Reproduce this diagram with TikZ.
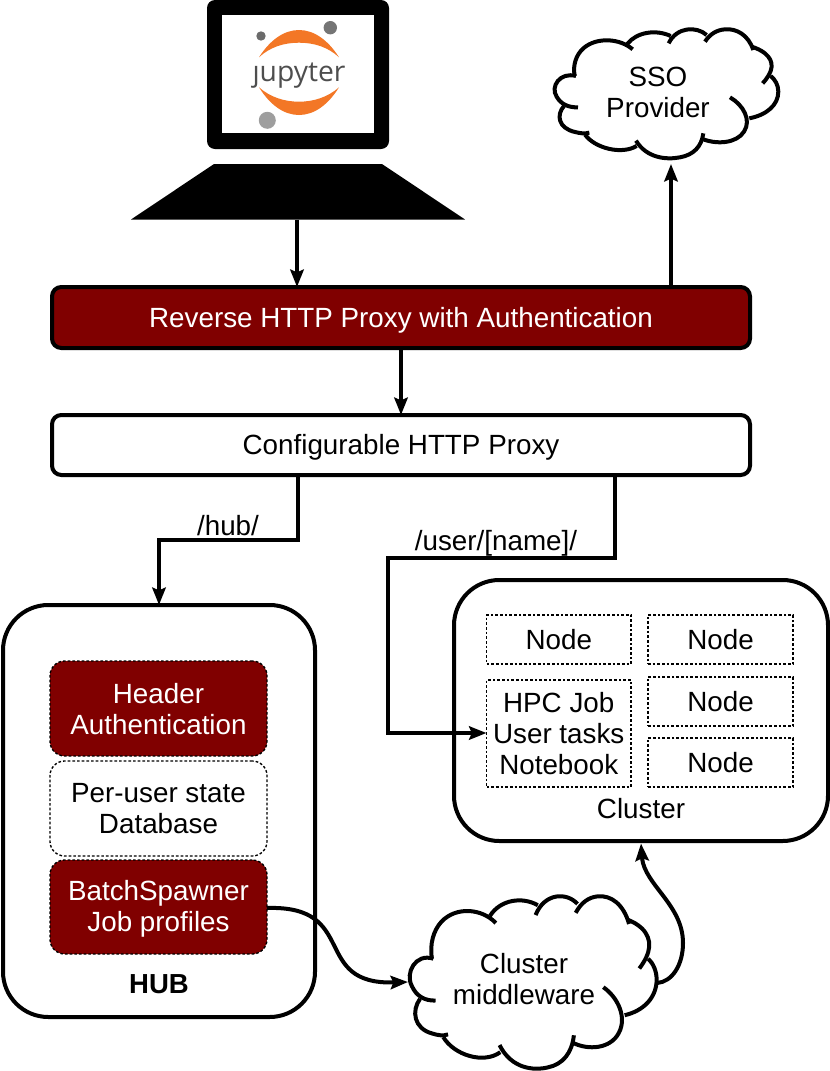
\documentclass[tikz,border=0pt]{standalone}
\usepackage{fontspec}
\setmainfont{Liberation Sans}
\newfontfamily\logofont{Open Sans}
\usetikzlibrary{arrows.meta}
\definecolor{maroonfill}{HTML}{800000}
\definecolor{logoorange}{HTML}{F37726}
\definecolor{logotext}{HTML}{4E4E4E}
\tikzset{
  x=0.75pt, y=-0.75pt,
  heavy/.style={line width=3pt},
  conn/.style={heavy, -{Stealth[length=13pt,width=10pt,inset=2pt]}, line join=miter},
  label/.style={font=\fontsize{20.85}{23.25}\selectfont, align=center, inner sep=0pt, outer sep=0pt},
  panel/.style={draw, heavy, rounded corners=7pt, inner sep=0pt, outer sep=0pt},
  bigpanel/.style={draw, heavy, rounded corners=34pt, inner sep=0pt, outer sep=0pt},
  darkpanel/.style={panel, fill=maroonfill},
  lightpanel/.style={panel, fill=white},
  dashbox/.style={draw, line width=1pt, dash pattern=on 2pt off 1.5pt, inner sep=0pt, outer sep=0pt},
  darkdash/.style={dashbox, rounded corners=11pt, fill=maroonfill},
  lightdash/.style={dashbox, rounded corners=11pt, fill=white},
  cloudline/.style={heavy, line cap=butt},
}
% A box given by its corners: name, x1, y1, x2, y2, box style
\newcommand\cornerbox[6]{%
  \pgfmathsetmacro\bxw{(#4-#2)*0.75}%
  \pgfmathsetmacro\bxh{(#5-#3)*0.75}%
  \node[#6, minimum width=\bxw pt, minimum height=\bxh pt] (#1) at ({(#2+#4)/2},{(#3+#5)/2}) {};%
}
% The separate arcs that make up a cloud outline
\newcommand\cloudarcs{%
  \draw[cloudline] (108,228) .. controls (60,215) and (30,260) .. (50,290) .. controls (62,312) and (85,323) .. (114,322);
  \draw[cloudline] (72,318) .. controls (48,345) and (55,385) .. (105,396) .. controls (120,400) and (135,402) .. (148,398);
  \draw[cloudline] (135,404) .. controls (165,445) and (245,465) .. (290,438);
  \draw[cloudline] (288,422) .. controls (320,475) and (380,480) .. (420,472) .. controls (460,465) and (485,440) .. (490,400);
  \draw[cloudline] (485,416) .. controls (530,435) and (590,430) .. (612,395) .. controls (635,360) and (610,315) .. (570,292);
  \draw[cloudline] (628,355) .. controls (680,345) and (715,315) .. (715,275) .. controls (715,255) and (705,238) .. (692,228);
  \draw[cloudline] (668,250) .. controls (700,215) and (705,185) .. (675,160) .. controls (662,150) and (650,145) .. (635,140);
  \draw[cloudline] (640,150) .. controls (625,105) and (590,85) .. (555,88) .. controls (530,90) and (510,102) .. (495,125);
  \draw[cloudline] (500,105) .. controls (470,78) and (410,80) .. (386,130);
  \draw[cloudline] (392,108) .. controls (350,88) and (290,95) .. (262,132);
  \draw[cloudline] (278,148) .. controls (240,115) and (170,110) .. (130,145) .. controls (108,165) and (98,195) .. (104,228);
}
\begin{document}
\begin{tikzpicture}
\useasboundingbox (0,0) rectangle (830,1071);

% Laptop
\fill[rounded corners=6pt] (207,0) rectangle (389,149);
\fill[white] (222,15) rectangle (374,133);
\fill (214,164) -- (382,164) -- (465,219.5) -- (131,219.5) -- cycle;
\coordinate (laptopbase) at (297,219.5);

% Notebook logo on the laptop screen
\fill[logoorange] (259,57.3) .. controls (270,40) and (284,30) .. (299,30) .. controls (314,30) and (328,40) .. (339,57.3) .. controls (328,47) and (314,42.7) .. (299,42.7) .. controls (284,42.7) and (270,47) .. (259,57.3) -- cycle;
\fill[logoorange] (259,87.3) .. controls (270,105) and (284,115) .. (299,115) .. controls (314,115) and (328,105) .. (339,87.3) .. controls (328,97) and (314,101.7) .. (299,101.7) .. controls (284,101.7) and (270,97) .. (259,87.3) -- cycle;
\fill[black!58] (261,36) circle (4.7);
\fill[black!54] (330.3,27.7) circle (6.7);
\fill[black!38] (267.3,120.3) circle (8.5);
\node[inner sep=0pt, text=logotext, font=\logofont\fontsize{21.2}{24}\selectfont] (logotext) at (299,75) {jupyter};
% The wordmark's j has no dot
\fill[white] (254,58.5) rectangle (262,63.5);

% Cloud outlines
\begin{scope}[shift={(540,0)}, xscale=0.3333, yscale=0.3333]
  \cloudarcs
\end{scope}
\begin{scope}[shift={(408.3,895)}, xscale=0.3679, yscale=0.4453, shift={(-40,-85)}]
  \cloudarcs
\end{scope}
\node[label] (sso) at (658,92) {SSO\\Provider};
\node[label] (middleware) at (524,979) {Cluster\\middleware};
\coordinate (ssobottom) at (671,164);
\coordinate (middlewareleft) at (408,982);
\coordinate (middlewareright) at (657,983);

% Proxies
\cornerbox{rhp}{52}{287}{750}{348}{darkpanel}
\node[label, text=white] (rhptext) at (401,320) {Reverse HTTP Proxy with Authentication};
\cornerbox{chp}{52}{415}{750}{475}{lightpanel}
\node[label] (chptext) at (401,447.5) {Configurable HTTP Proxy};

% Hub
\cornerbox{hub}{3}{605}{315}{1017}{bigpanel}
\cornerbox{auth}{50}{661}{267}{756}{darkdash}
\node[label, text=white] (authtext) at (158.5,709.5) {Header\\Authentication};
\cornerbox{db}{50}{761}{267}{856}{lightdash}
\node[label] (dbtext) at (158.5,808.5) {Per-user state\\Database};
\cornerbox{spawner}{50}{860}{267}{954}{darkdash}
\node[label, text=white] (spawnertext) at (158.5,909) {BatchSpawner\\Job profiles};
\node[label, font=\fontsize{20.65}{23.25}\selectfont\bfseries] (hublabel) at (159,984) {HUB};

% Cluster
\cornerbox{cluster}{454}{580}{828}{841}{bigpanel}
\cornerbox{nodea}{486.5}{615}{631}{664}{dashbox}
\node[label] (nodeatext) at (558.75,639.5) {Node};
\cornerbox{nodeb}{648}{615}{793}{664}{dashbox}
\node[label] (nodebtext) at (720.5,639.5) {Node};
\cornerbox{nodec}{648}{677}{793}{726}{dashbox}
\node[label] (nodectext) at (720.5,701.5) {Node};
\cornerbox{noded}{648}{738}{793}{787}{dashbox}
\node[label] (nodedtext) at (720.5,762.5) {Node};
\cornerbox{hpc}{486.5}{680}{631}{787}{dashbox}
\node[label] (hpctext) at (558.75,733.5) {HPC Job\\User tasks\\Notebook};
\node[label] (clusterlabel) at (641,809) {Cluster};

% Connectors
\draw[conn] (laptopbase) -- (laptopbase |- rhp.north);
\draw[conn] (rhp.south -| 401,0) -- (chp.north -| 401,0);
\draw[conn] (rhp.north -| ssobottom) -- (ssobottom);
\draw[conn] (chp.south -| 298,0) -- (298,540) -- (159,540) -- (hub.north -| 159,0);
\draw[conn] (chp.south -| 615,0) -- (615,558) -- (388,558) -- (388,733) -- (hpc.west |- 0,733);
\draw[conn] (spawner.east |- 0,908) .. controls (360,905) and (310,985) .. (middlewareleft);
\draw[conn] (middlewareright) .. controls (672,982) and (683,965) .. (683,943) .. controls (683,905) and (645,885) .. (642,858) -- (641,843.5);

% Route labels
\node[label] (hubroute) at (228,526) {/hub/};
\node[label] (userroute) at (496,543) {/user/[name]/};
\end{tikzpicture}
\end{document}
